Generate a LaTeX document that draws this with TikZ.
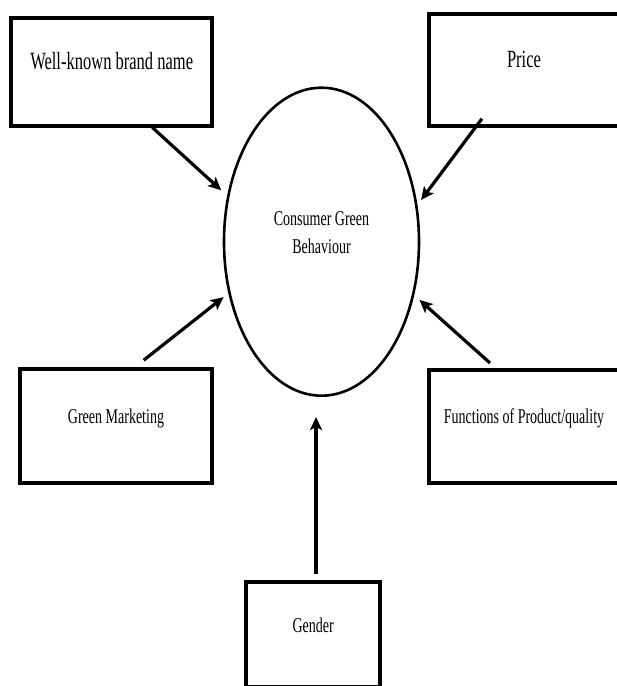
\documentclass[tikz,border=0pt]{standalone}
\usepackage{fontspec}
\setmainfont{Liberation Serif}
\newfontfamily\narrowserif[FakeStretch=0.667]{Liberation Serif}
\usetikzlibrary{shapes.geometric, arrows.meta, positioning}

\begin{document}
\begin{tikzpicture}[
    x=1pt, y=-1pt,
    every node/.style={text=black},
    factor/.style={rectangle, draw=black, line width=4pt, inner sep=0pt,
                   font=\narrowserif\fontsize{24.75}{30}\selectfont,
                   text height=5pt, text depth=10pt},
    factor_s/.style={factor, font=\narrowserif\fontsize{21}{28}\selectfont},
    outcome/.style={ellipse, draw=black, line width=2.6pt, inner sep=0pt, align=center,
                    minimum width=195pt, minimum height=308pt,
                    text height=42.3pt, text depth=19.7pt,
                    font=\narrowserif\fontsize{21}{28}\selectfont},
    arrow/.style={-{Stealth[length=13pt, width=12pt, inset=3pt]}, line width=3.2pt, draw=black},
]
\useasboundingbox (0,0) rectangle (617,686);
\clip (0,0) rectangle (617,686);

% Row 1: brand and price
\node[factor, minimum width=200.7pt, minimum height=108pt] (brand) at (111.7,71.5) {Well-known brand name};
\node[factor, minimum width=190pt, minimum height=112pt] (price) at (524,69.5) {Price};

% Row 2: outcome
\node[outcome] (cgb) at (321.5,241.7) {Consumer Green\\Behaviour};

% Row 3: marketing and quality
\node[factor_s, minimum width=192pt, minimum height=113.5pt] (marketing) at (116,425.75) {Green Marketing};
\node[factor_s, minimum width=190pt, minimum height=112.5pt] (quality) at (524,426.25) {Functions of Product/quality};

% Row 4: gender
\node[factor_s, minimum width=133.5pt, minimum height=104.5pt] (gender) at (313.2,634.7) {Gender};

% Arrows
\draw[arrow, shorten >=8pt] (brand.-54.7) -- (cgb.154.7);
\draw[arrow, shorten <=-11pt, shorten >=6pt] (price.230.8) -- (cgb.21.2);
\draw[arrow, shorten <=11pt, shorten >=6pt] (marketing.72.4) -- (cgb.209.8);
\draw[arrow, shorten <=7.5pt, shorten >=7pt] (quality.116.9) -- (cgb.-30.4);
\draw[arrow, shorten <=6pt, shorten >=20pt] (gender.87.7) -- (gender.87.7 |- cgb.south);

\end{tikzpicture}
\end{document}
